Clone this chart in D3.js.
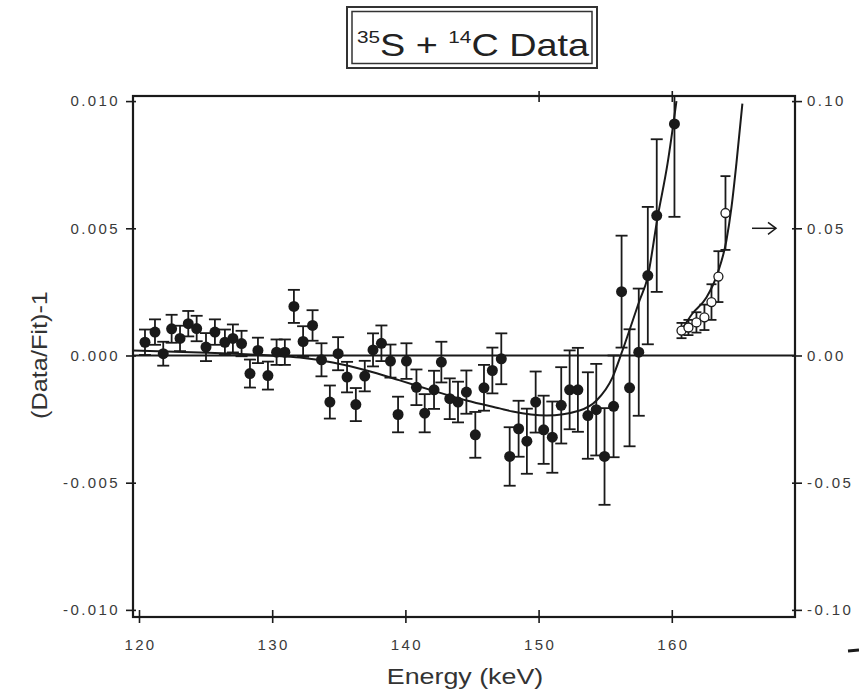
<!DOCTYPE html>
<html>
<head>
<meta charset="utf-8">
<script src="https://cdn.jsdelivr.net/npm/d3@7"></script>
<style>
  body { margin: 0; background: #fff; }
  text { font-family: "Liberation Sans", Arial, sans-serif; }
</style>
</head>
<body>
<div id="chart"></div>
<script>
// 35S data, residuals (Data/Fit)-1, left axis
const energyS = [120.45,121.20,121.82,122.45,123.08,123.70,124.33,125.03,125.70,126.45,
  127.05,127.70,128.33,128.93,129.68,130.33,130.95,131.63,132.32,133.03,
  133.70,134.33,134.95,135.62,136.28,136.95,137.57,138.20,138.88,139.45,
  140.08,140.83,141.45,142.15,142.70,143.33,143.95,144.58,145.25,145.90,
  146.53,147.20,147.83,148.50,149.12,149.78,150.38,151.03,151.70,152.33,
  152.95,153.70,154.33,154.95,155.63,156.23,156.83,157.52,158.20,158.87,160.20];
const residS = [0.00052,0.00092,0.00007,0.00105,0.00067,0.00125,0.00106,0.00033,0.00092,0.00052,
  0.00067,0.00047,-0.00071,0.00020,-0.00079,0.00013,0.00013,0.00193,0.00055,0.00118,
  -0.00017,-0.00183,0.00007,-0.00085,-0.00193,-0.00081,0.00022,0.00048,-0.00022,-0.00232,
  -0.00022,-0.00125,-0.00227,-0.00135,-0.00026,-0.00170,-0.00183,-0.00144,-0.00312,-0.00127,
  -0.00059,-0.00013,-0.00397,-0.00288,-0.00337,-0.00183,-0.00292,-0.00321,-0.00196,-0.00135,
  -0.00135,-0.00236,-0.00213,-0.00397,-0.00200,0.00251,-0.00127,0.00013,0.00314,0.00550,0.00910];
const errS = [0.00050,0.00050,0.00047,0.00055,0.00050,0.00050,0.00050,0.00055,0.00050,0.00050,
  0.00055,0.00050,0.00055,0.00050,0.00055,0.00050,0.00050,0.00065,0.00060,0.00060,
  0.00065,0.00065,0.00065,0.00060,0.00065,0.00060,0.00065,0.00070,0.00065,0.00070,
  0.00070,0.00070,0.00075,0.00075,0.00080,0.00080,0.00080,0.00085,0.00090,0.00090,
  0.00090,0.00100,0.00115,0.00110,0.00128,0.00120,0.00134,0.00140,0.00150,0.00155,
  0.00165,0.00170,0.00180,0.00190,0.00200,0.00220,0.00230,0.00250,0.00270,0.00300,0.00365];

// fit curve through the 35S residuals
const fitE = [119.55,124.58,129.83,132.08,134.55,137.10,139.58,142.05,144.60,147.08,
  148.05,150.60,153.08,154.35,155.55,156.30,157.58,158.18,158.93,159.68,160.35];
const fitV = [0.00020,0.00012,0.00000,-0.00008,-0.00028,-0.00059,-0.00098,-0.00138,-0.00177,-0.00208,
  -0.00220,-0.00236,-0.00216,-0.00177,-0.00086,0.00020,0.00216,0.00306,0.00542,0.00754,0.01000];

// 14C data, right axis
const energyC = [160.73,161.25,161.85,162.45,162.98,163.50,164.03];
const residC = [0.0098,0.0110,0.0130,0.0150,0.0210,0.0310,0.0560];
const errC = [0.0030,0.0030,0.0040,0.0050,0.0070,0.0100,0.0145];
const fitCE = [160.57,161.55,162.60,163.43,164.10,164.48,164.85,165.30];
const fitCV = [0.0086,0.0165,0.0228,0.0322,0.0452,0.0582,0.0754,0.0990];

const xTicks = [120,130,140,150,160];
const yTicks = [-0.010,-0.005,0.000,0.005,0.010];
const yTicksR = [-0.10,-0.05,0.00,0.05,0.10];

const width = 859, height = 692;
const L = 133, R = 795, T = 96, B = 617;

const svg = d3.select("#chart").append("svg")
  .attr("width", width)
  .attr("height", height);

const x = d3.scaleLinear().domain([119.55, 169.25]).range([L, R]);
const y = d3.scaleLinear().domain([-0.01028, 0.0102]).range([B, T]);
const yR = d3.scaleLinear().domain([-0.1028, 0.102]).range([B, T]);

svg.append("defs").append("clipPath").attr("id", "plot")
  .append("rect").attr("x", L).attr("y", T).attr("width", R - L).attr("height", B - T);

const ink = "#1a1a1a";
// plain hyphen for negatives, as in the scan
const fmt = p => d => d3.format(p)(d).replace("\u2212", "-");
const tickFont = g => g.selectAll("text")
  .style("font-size", "15px")
  .style("letter-spacing", "2.4px")
  .attr("fill", "#3a3a3a");

// axes
const gL = svg.append("g").attr("transform", `translate(${L},0)`)
  .call(d3.axisLeft(y).tickValues(yTicks).tickFormat(fmt(".3f")).tickSize(7).tickPadding(6));
gL.selectAll("line").attr("x2", -7).attr("x1", 3);
const gR = svg.append("g").attr("transform", `translate(${R},0)`)
  .call(d3.axisRight(yR).tickValues(yTicksR).tickFormat(fmt(".2f")).tickSize(7).tickPadding(5));
gR.selectAll("line").attr("x2", 7).attr("x1", -3);
const gB = svg.append("g").attr("transform", `translate(0,${B})`)
  .call(d3.axisBottom(x).tickValues(xTicks).tickFormat(d3.format("d")).tickSize(7).tickPadding(15));
gB.selectAll("line").attr("y2", 6).attr("y1", -7);
gB.selectAll("text").attr("dx", "1px");
const gT = svg.append("g").attr("transform", `translate(0,${T})`)
  .call(d3.axisTop(x).tickValues([150, 160]).tickFormat("").tickSize(6));
gT.selectAll("line").attr("y2", -5).attr("y1", 6);

[gL, gR, gB, gT].forEach(g => {
  g.select(".domain").remove();
  g.selectAll("line").attr("stroke", ink).attr("stroke-width", 1.6);
  tickFont(g);
});

// frame and zero line
svg.append("rect").attr("x", L).attr("y", T).attr("width", R - L).attr("height", B - T)
  .attr("fill", "none").attr("stroke", ink).attr("stroke-width", 2.2);
svg.append("line").attr("x1", L).attr("x2", R).attr("y1", y(0)).attr("y2", y(0))
  .attr("stroke", ink).attr("stroke-width", 1.8);

const plot = svg.append("g").attr("clip-path", "url(#plot)");

// fit curves
const lineS = d3.line().x((d, i) => x(fitE[i])).y(d => y(d)).curve(d3.curveMonotoneX);
plot.append("path").attr("d", lineS(fitV)).attr("fill", "none").attr("stroke", ink).attr("stroke-width", 2);
const lineC = d3.line().x((d, i) => x(fitCE[i])).y(d => yR(d)).curve(d3.curveMonotoneX);
plot.append("path").attr("d", lineC(fitCV)).attr("fill", "none").attr("stroke", ink).attr("stroke-width", 2);

// error bars helper
function errorBars(g, xs, vs, es, ys, cap) {
  const eb = g.append("g").attr("stroke", ink).attr("stroke-width", 1.8);
  vs.forEach((v, i) => {
    const cx = x(xs[i]), y1 = ys(v + es[i]), y2 = ys(v - es[i]);
    eb.append("line").attr("x1", cx).attr("x2", cx).attr("y1", y1).attr("y2", y2);
    eb.append("line").attr("x1", cx - cap).attr("x2", cx + cap).attr("y1", y1).attr("y2", y1);
    eb.append("line").attr("x1", cx - cap).attr("x2", cx + cap).attr("y1", y2).attr("y2", y2);
  });
}

errorBars(plot, energyS, residS, errS, y, 6);
plot.append("g").selectAll("circle").data(residS).join("circle")
  .attr("cx", (d, i) => x(energyS[i])).attr("cy", d => y(d)).attr("r", 5.5)
  .attr("fill", ink);

errorBars(plot, energyC, residC, errC, yR, 5);
plot.append("g").selectAll("circle").data(residC).join("circle")
  .attr("cx", (d, i) => x(energyC[i])).attr("cy", d => yR(d)).attr("r", 4.5)
  .attr("fill", "#fff").attr("stroke", ink).attr("stroke-width", 1.3);

// arrow pointing to the right axis
svg.append("line").attr("x1", 752).attr("x2", 776).attr("y1", yR(0.05)).attr("y2", yR(0.05))
  .attr("stroke", ink).attr("stroke-width", 1.5);
svg.append("path").attr("d", `M768,${yR(0.05) - 6}L776,${yR(0.05)}L768,${yR(0.05) + 6}`)
  .attr("fill", "none").attr("stroke", ink).attr("stroke-width", 1.5);

// axis titles
svg.append("text").attr("transform", "translate(465,684) scale(1.22,1)")
  .attr("text-anchor", "middle").style("font-size", "22px").attr("fill", "#333")
  .text("Energy (keV)");
svg.append("text").attr("transform", "translate(47,355) rotate(-90) scale(1.15,1)")
  .attr("text-anchor", "middle").style("font-size", "22px").attr("fill", "#333")
  .text("(Data/Fit)-1");

// title box
svg.append("rect").attr("x", 347).attr("y", 7).attr("width", 250).attr("height", 61)
  .attr("fill", "#fff").attr("stroke", "#333").attr("stroke-width", 2);
svg.append("rect").attr("x", 352).attr("y", 11.5).attr("width", 240).attr("height", 52)
  .attr("fill", "none").attr("stroke", "#333").attr("stroke-width", 1.5);
const title = svg.append("text").attr("transform", "translate(473,56) scale(1.22,1)")
  .attr("text-anchor", "middle").attr("fill", "#222").style("font-size", "31px");
title.append("tspan").style("font-size", "17px").attr("dy", -13).text("35");
title.append("tspan").attr("dy", 13).text("S + ");
title.append("tspan").style("font-size", "17px").attr("dy", -13).text("14");
title.append("tspan").attr("dy", 13).text("C Data");

// stray mark at bottom right of the scan
svg.append("line").attr("x1", 848).attr("x2", 859).attr("y1", 651).attr("y2", 650)
  .attr("stroke", ink).attr("stroke-width", 3);
</script>
</body>
</html>
